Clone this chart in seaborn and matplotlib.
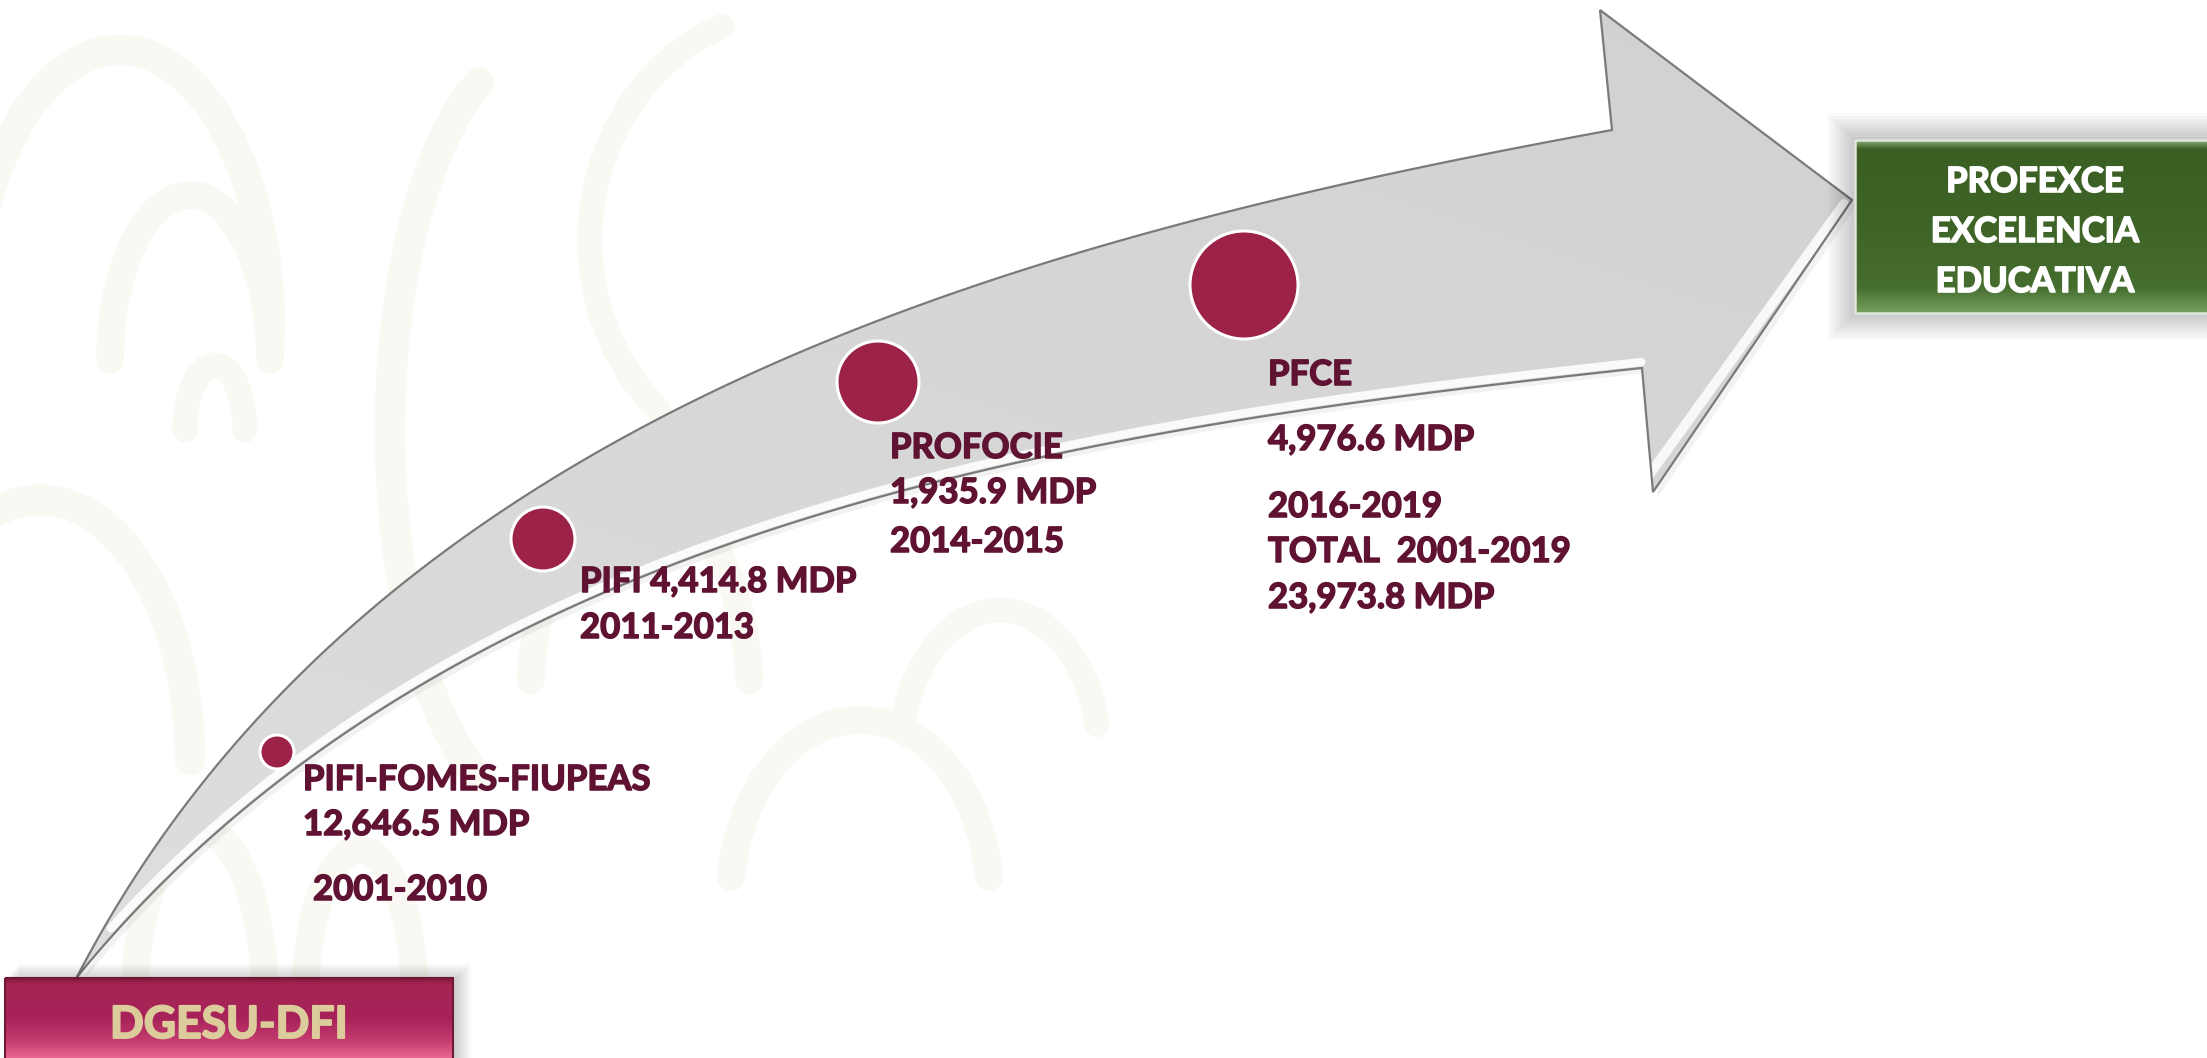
import numpy as np
import pandas as pd
import matplotlib
matplotlib.use("Agg")
import matplotlib.pyplot as plt
import matplotlib.patheffects as pe
from matplotlib.patches import Polygon, Rectangle, Arc
from matplotlib.colors import LinearSegmentedColormap
import seaborn as sns

# ---------------- data ----------------
programs = ["PIFI-FOMES-FIUPEAS", "PIFI", "PROFOCIE", "PFCE"]
amounts_mdp = [12646.5, 4414.8, 1935.9, 4976.6]
periods = ["2001-2010", "2011-2013", "2014-2015", "2016-2019"]
total_period = "TOTAL  2001-2019"
total_mdp = 23973.8
start_label = "DGESU-DFI"
end_label = ["PROFEXCE", "EXCELENCIA", "EDUCATIVA"]

# ---------------- layout (pixel space of the 2207x1058 canvas) ----------------
W, H, DPI = 2207, 1058, 100
circle_x = [277, 543, 878, 1244]
circle_y = [752, 539, 382, 285]
circle_r = [17, 32, 41, 54]
upper_edge = [(77, 977), (167, 843), (267, 707), (367, 617), (513, 500), (700, 393),
              (919, 300), (1110, 247), (1302, 197), (1450, 168), (1612, 130)]
lower_edge = [(77, 977), (200, 850), (300, 757), (400, 700), (500, 643), (820, 513),
              (1000, 470), (1170, 430), (1302, 410), (1642, 368)]
head = [(1600, 10), (1852, 200), (1653, 492)]

TXT = "#5f1232"
DOT = "#9c2247"
FONT = ["Lato", "DejaVu Sans"]
WEIGHT = "bold"

sns.set_theme(style="white")
plt.rcParams["font.family"] = FONT

fig = plt.figure(figsize=(W / DPI, H / DPI), dpi=DPI)
ax = fig.add_axes([0, 0, 1, 1])
ax.set_xlim(0, W)
ax.set_ylim(H, 0)
ax.axis("off")
fig.patch.set_facecolor("white")

# very faint background watermark swirls
bg = "#faf8f2"
for (cx, cy, w, h, t1, t2, lw) in [
    (120, 330, 300, 560, 180, 360, 22), (190, 360, 160, 330, 180, 360, 20),
    (215, 430, 60, 130, 180, 360, 18), (540, 430, 300, 760, 100, 260, 22),
    (40, 760, 300, 520, 220, 360, 22), (200, 1000, 130, 340, 180, 360, 20),
    (360, 1000, 110, 300, 180, 360, 20), (640, 700, 220, 420, 190, 350, 20),
    (860, 900, 260, 360, 190, 350, 20), (1000, 760, 200, 300, 200, 340, 18),
    (800, 240, 420, 460, 130, 250, 18)]:
    ax.add_patch(Arc((cx, cy), w, h, theta1=t1, theta2=t2, color=bg, lw=lw,
                     zorder=0, capstyle="round"))


def smooth(pts, deg=3, n=300):
    pts = np.asarray(pts, float)
    d = np.r_[0, np.cumsum(np.hypot(*np.diff(pts, axis=0).T))]
    t = d / d[-1]
    w = np.ones(len(t))
    w[0] = w[-1] = 20
    px = np.polyfit(t, pts[:, 0], deg, w=w)
    py = np.polyfit(t, pts[:, 1], deg, w=w)
    tt = np.linspace(0, 1, n)
    return np.c_[np.polyval(px, tt), np.polyval(py, tt)]


up = smooth(upper_edge, 3)
lo = smooth(lower_edge, 3)
up[0] = lo[0] = upper_edge[0]
outline = np.vstack([up, np.array(head), lo[::-1]])

# arrow shadow
ax.add_patch(Polygon(outline + np.array([5, 5]), closed=True, fc="#000000", ec="none",
                     alpha=0.05, zorder=1))
arrow = Polygon(outline, closed=True, fc="#d8d8d8", ec="none", zorder=2)
ax.add_patch(arrow)
# gradient inside arrow
gx = np.linspace(0, 1, 300)
gy = np.linspace(0, 1, 300)
GX, GY = np.meshgrid(gx, gy)
grad = 0.62 + 0.2 * GY - 0.12 * GX
gray_cmap = LinearSegmentedColormap.from_list("g", ["#bcbcbc", "#e6e6e6"])
im = ax.imshow(grad, extent=(60, 1860, 990, 0), cmap=gray_cmap, vmin=0, vmax=1,
               zorder=2, aspect="auto", interpolation="bilinear")
im.set_clip_path(arrow)

# white highlight band just inside the lower edge (offset along the normal)
d = np.gradient(lo, axis=0)
nrm = np.c_[d[:, 1], -d[:, 0]]
nrm /= np.hypot(nrm[:, 0], nrm[:, 1])[:, None]
band = lo + 6 * nrm
if np.mean(band[:, 1] - lo[:, 1]) > 0:
    band = lo - 6 * nrm
hl = ax.plot(band[10:, 0], band[10:, 1], color="white", lw=6, alpha=0.9, zorder=3)[0]
hl.set_clip_path(arrow)
hb = ax.plot([1653 - 6, 1852 - 8], [492 - 14, 200 + 4], color="white", lw=7, alpha=0.85,
             zorder=3)[0]
hb.set_clip_path(arrow)
ax.add_patch(Polygon(outline, closed=True, fc="none", ec="#7a7a7a", lw=1.6, zorder=4))

# milestone circles (seaborn)
dots = pd.DataFrame({"x": circle_x, "y": circle_y, "r": circle_r, "program": programs})
size_map = {r: (2 * r * 72 / DPI) ** 2 for r in circle_r}
sns.scatterplot(data=dots, x="x", y="y", size="r", sizes=size_map, color=DOT,
                edgecolor="white", linewidth=2.2, legend=False, ax=ax, zorder=6)
ax.set_xlim(0, W)
ax.set_ylim(H, 0)
ax.axis("off")


def heavy(color, lw=1.1):
    return [pe.withStroke(linewidth=lw, foreground=color)]


# milestone labels
fs = 25
money = [f"{v:,.1f} MDP" for v in amounts_mdp]
labels = [
    (303, [(programs[0], 790), (money[0], 835)]),
    (313, [(periods[0], 900)]),
    (580, [(f"{programs[1]} {money[1]}", 592), (periods[1], 638)]),
    (890, [(programs[2], 458), (money[2], 503), (periods[2], 552)]),
    (1268, [(programs[3], 385), (money[3], 450), (periods[3], 517),
            (total_period, 562), (f"{total_mdp:,.1f} MDP", 608)]),
]
for x0, lines in labels:
    for s, yb in lines:
        ax.text(x0, yb, s, color=TXT, fontsize=fs, fontweight=WEIGHT,
                ha="left", va="baseline", zorder=7, path_effects=heavy(TXT))


def gradient_box(x0, y0, x1, y1, colors, z=5):
    rect = Rectangle((x0, y0), x1 - x0, y1 - y0, fc="none", ec="none", zorder=z)
    ax.add_patch(rect)
    cmap = LinearSegmentedColormap.from_list("b", colors)
    g = np.linspace(0, 1, 256)[:, None] * np.ones((1, 4))
    img = ax.imshow(g, extent=(x0, x1, y1, y0), cmap=cmap, aspect="auto", zorder=z,
                    interpolation="bilinear")
    img.set_clip_path(rect)
    return rect


# start box shadow + box
for k in range(8):
    ax.add_patch(Rectangle((5 + k * 2, 978 - k * 2), 448 + 4, 100, fc="#000000",
                           ec="none", alpha=0.025, zorder=4))
gradient_box(5, 978, 453, 1058,
             [(0.0, "#7d1a3c"), (0.08, "#a52553"), (0.5, "#a8225a"),
              (0.78, "#c43c6e"), (1.0, "#e8668f")])
ax.add_patch(Rectangle((5, 978), 448, 90, fc="none", ec="#6e1a35", lw=1.5, zorder=6))
ax.text(229, 1038, start_label, color="#dccb9b", fontsize=32, fontweight=WEIGHT,
        ha="center", va="baseline", zorder=7, path_effects=heavy("#dccb9b", 1.4))

# end box shadow + box
for k in range(10):
    ax.add_patch(Rectangle((1855 - 3 * k, 140 - 3 * k), 360 + 6 * k, 173 + 6 * k,
                           fc="#000000", ec="none", alpha=0.022, zorder=4))
gradient_box(1855, 140, 2207, 313,
             [(0.0, "#8fae7f"), (0.05, "#3b5f22"), (0.5, "#3f6427"),
              (0.85, "#456d2e"), (1.0, "#76a05e")])
ax.add_patch(Rectangle((1855, 140), 360, 173, fc="none", ec="#dfe6da", lw=1.8, zorder=6))
for s, yb in zip(end_label, [192, 242, 292]):
    ax.text(2035, yb, s, color="white", fontsize=25, fontweight=WEIGHT,
            ha="center", va="baseline", zorder=7, path_effects=heavy("white", 1.2))

fig.savefig("out.png", dpi=DPI, facecolor="white")
